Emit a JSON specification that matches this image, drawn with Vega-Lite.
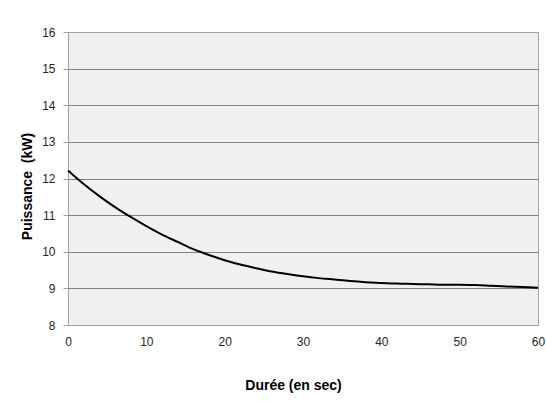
{
  "$schema": "https://vega.github.io/schema/vega-lite/v6.json",
  "width": 470,
  "height": 293,
  "autosize": {"type": "none"},
  "padding": {"left": 68, "top": 32, "right": 8, "bottom": 76},
  "background": "#ffffff",
  "config": {
    "view": {"fill": "#f0f0f0", "stroke": "#a0a0a0", "strokeWidth": 1},
    "font": "Liberation Sans"
  },
  "data": {
    "values": [
      {"t": 0, "p": 12.22},
      {"t": 2, "p": 11.85},
      {"t": 4, "p": 11.52},
      {"t": 6, "p": 11.22},
      {"t": 8, "p": 10.95},
      {"t": 10, "p": 10.7},
      {"t": 12, "p": 10.47},
      {"t": 14, "p": 10.27},
      {"t": 16, "p": 10.07},
      {"t": 18, "p": 9.91},
      {"t": 20, "p": 9.77},
      {"t": 22, "p": 9.65},
      {"t": 24, "p": 9.55},
      {"t": 26, "p": 9.46},
      {"t": 28, "p": 9.39},
      {"t": 30, "p": 9.33},
      {"t": 32, "p": 9.28},
      {"t": 34, "p": 9.24},
      {"t": 36, "p": 9.2},
      {"t": 38, "p": 9.17},
      {"t": 40, "p": 9.15},
      {"t": 42, "p": 9.13},
      {"t": 44, "p": 9.12},
      {"t": 46, "p": 9.11},
      {"t": 48, "p": 9.1},
      {"t": 50, "p": 9.1},
      {"t": 52, "p": 9.09},
      {"t": 54, "p": 9.07},
      {"t": 56, "p": 9.05},
      {"t": 58, "p": 9.04},
      {"t": 60, "p": 9.02}
    ]
  },
  "mark": {"type": "line", "color": "#000000", "strokeWidth": 2, "interpolate": "monotone"},
  "encoding": {
    "x": {
      "field": "t",
      "type": "quantitative",
      "scale": {"domain": [0, 60], "nice": false, "zero": false},
      "axis": {
        "values": [0, 10, 20, 30, 40, 50, 60],
        "grid": false,
        "ticks": false,
        "tickSize": 0,
        "labelFlush": false,
        "labelAlign": "center",
        "domainColor": "#a0a0a0",
        "labelPadding": 11,
        "labelFont": "Liberation Sans",
        "labelFontSize": 12,
        "labelColor": "#262626",
        "title": "Durée (en sec)",
        "titleFont": "Liberation Sans",
        "titleFontSize": 14,
        "titleFontWeight": "bold",
        "titleColor": "#000000",
        "titleX": 225,
        "titleY": 60,
        "titleBaseline": "middle",
        "titleAnchor": "middle"
      }
    },
    "y": {
      "field": "p",
      "type": "quantitative",
      "scale": {"domain": [8, 16], "nice": false, "zero": false},
      "axis": {
        "values": [8, 9, 10, 11, 12, 13, 14, 15, 16],
        "grid": true,
        "gridColor": {"condition": {"test": "datum.value == 8 || datum.value == 16", "value": "#a0a0a0"}, "value": "#808080"},
        "gridWidth": 1,
        "ticks": true,
        "tickSize": 5,
        "tickColor": "#a0a0a0",
        "domainColor": "#a0a0a0",
        "labelFlush": false,
        "labelPadding": 8,
        "labelFont": "Liberation Sans",
        "labelFontSize": 12,
        "labelColor": "#262626",
        "title": "Puissance \u00a0(kW)",
        "titleFont": "Liberation Sans",
        "titleFontSize": 14,
        "titleFontWeight": "bold",
        "titleColor": "#000000",
        "titleX": -41,
        "titleY": 154,
        "titleBaseline": "middle",
        "titleAnchor": "middle",
        "titleAngle": -90
      }
    }
  }
}
